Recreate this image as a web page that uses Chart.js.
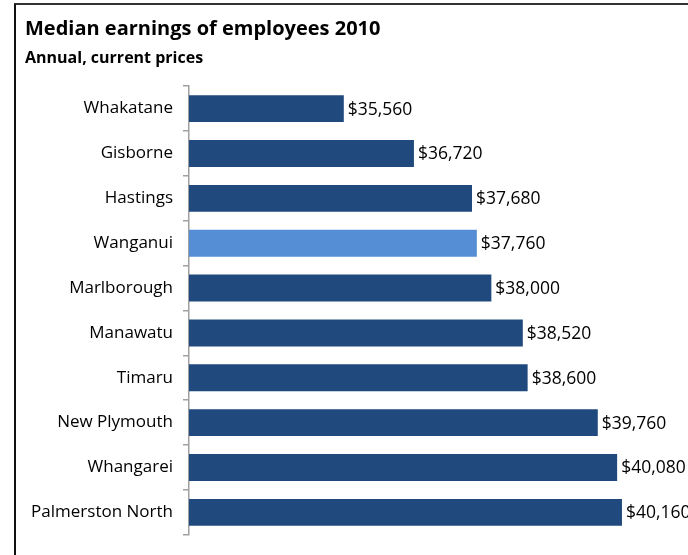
<!DOCTYPE html>
<html>
<head>
<meta charset="utf-8">
<script src="https://cdn.jsdelivr.net/npm/chart.js@4.4.1/dist/chart.umd.min.js"></script>
<style>
  html, body { margin: 0; padding: 0; background: #fff; overflow: hidden; width: 688px; height: 555px; }
  #frame { position: absolute; left: 14px; top: 3px; width: 800px; height: 700px;
           border-left: 2px solid #111; border-top: 2px solid #333; }
  #wrap { position: absolute; left: 0; top: 0; width: 760px; height: 555px; }
</style>
</head>
<body>
<div id="frame"></div>
<div id="wrap"><canvas id="chart" width="760" height="555"></canvas></div>
<script>
// Median annual earnings of employees, 2010 (NZD, current prices)
const districts = ["Whakatane", "Gisborne", "Hastings", "Wanganui", "Marlborough",
                   "Manawatu", "Timaru", "New Plymouth", "Whangarei", "Palmerston North"];
const earnings = [35560, 36720, 37680, 37760, 38000, 38520, 38600, 39760, 40080, 40160];
const highlighted = "Wanganui";

const FONT = "'Open Sans', sans-serif";
const DARK = "#204A7D";
const LIGHT = "#558ED5";

const dollar = v => "$" + v.toLocaleString("en-US");

// writes the dollar amount just past the end of each bar
const valueLabels = {
  id: "valueLabels",
  afterDatasetsDraw(chart) {
    const ctx = chart.ctx;
    const meta = chart.getDatasetMeta(0);
    ctx.save();
    ctx.font = "17.5px " + FONT;
    ctx.fillStyle = "#000";
    ctx.textAlign = "left";
    ctx.textBaseline = "middle";
    meta.data.forEach((bar, i) => {
      ctx.fillText(dollar(earnings[i]), bar.x + 4, bar.y + 1);
    });
    ctx.restore();
  }
};

new Chart(document.getElementById("chart"), {
  type: "bar",
  data: {
    labels: districts,
    datasets: [{
      data: earnings,
      backgroundColor: districts.map(d => d === highlighted ? LIGHT : DARK),
      borderWidth: 0,
      categoryPercentage: 1,
      barPercentage: 0.6
    }]
  },
  options: {
    indexAxis: "y",
    responsive: false,
    animation: false,
    layout: { padding: { left: 25, right: 57, top: 0, bottom: 18 } },
    plugins: {
      legend: { display: false },
      tooltip: { enabled: false },
      title: {
        display: true,
        text: "Median earnings of employees 2010",
        align: "start",
        color: "#000",
        font: { family: FONT, size: 20, weight: "bold" },
        padding: { top: 17, bottom: 4 }
      },
      subtitle: {
        display: true,
        text: "Annual, current prices",
        align: "start",
        color: "#000",
        font: { family: FONT, size: 16, weight: "bold" },
        padding: { top: 4, bottom: 18 }
      }
    },
    scales: {
      x: { display: false, min: 33000, max: 41500 },
      y: {
        afterFit(scale) { scale.width = 164; },
        border: { display: true, color: "#A0A0A0", width: 1.5 },
        grid: { display: true, drawOnChartArea: false, drawTicks: true, tickLength: 6,
                color: "#A0A0A0", lineWidth: 1.5, offset: true },
        ticks: { color: "#000", font: { family: FONT, size: 17 }, padding: 10 }
      }
    }
  },
  plugins: [valueLabels]
});
</script>
</body>
</html>
